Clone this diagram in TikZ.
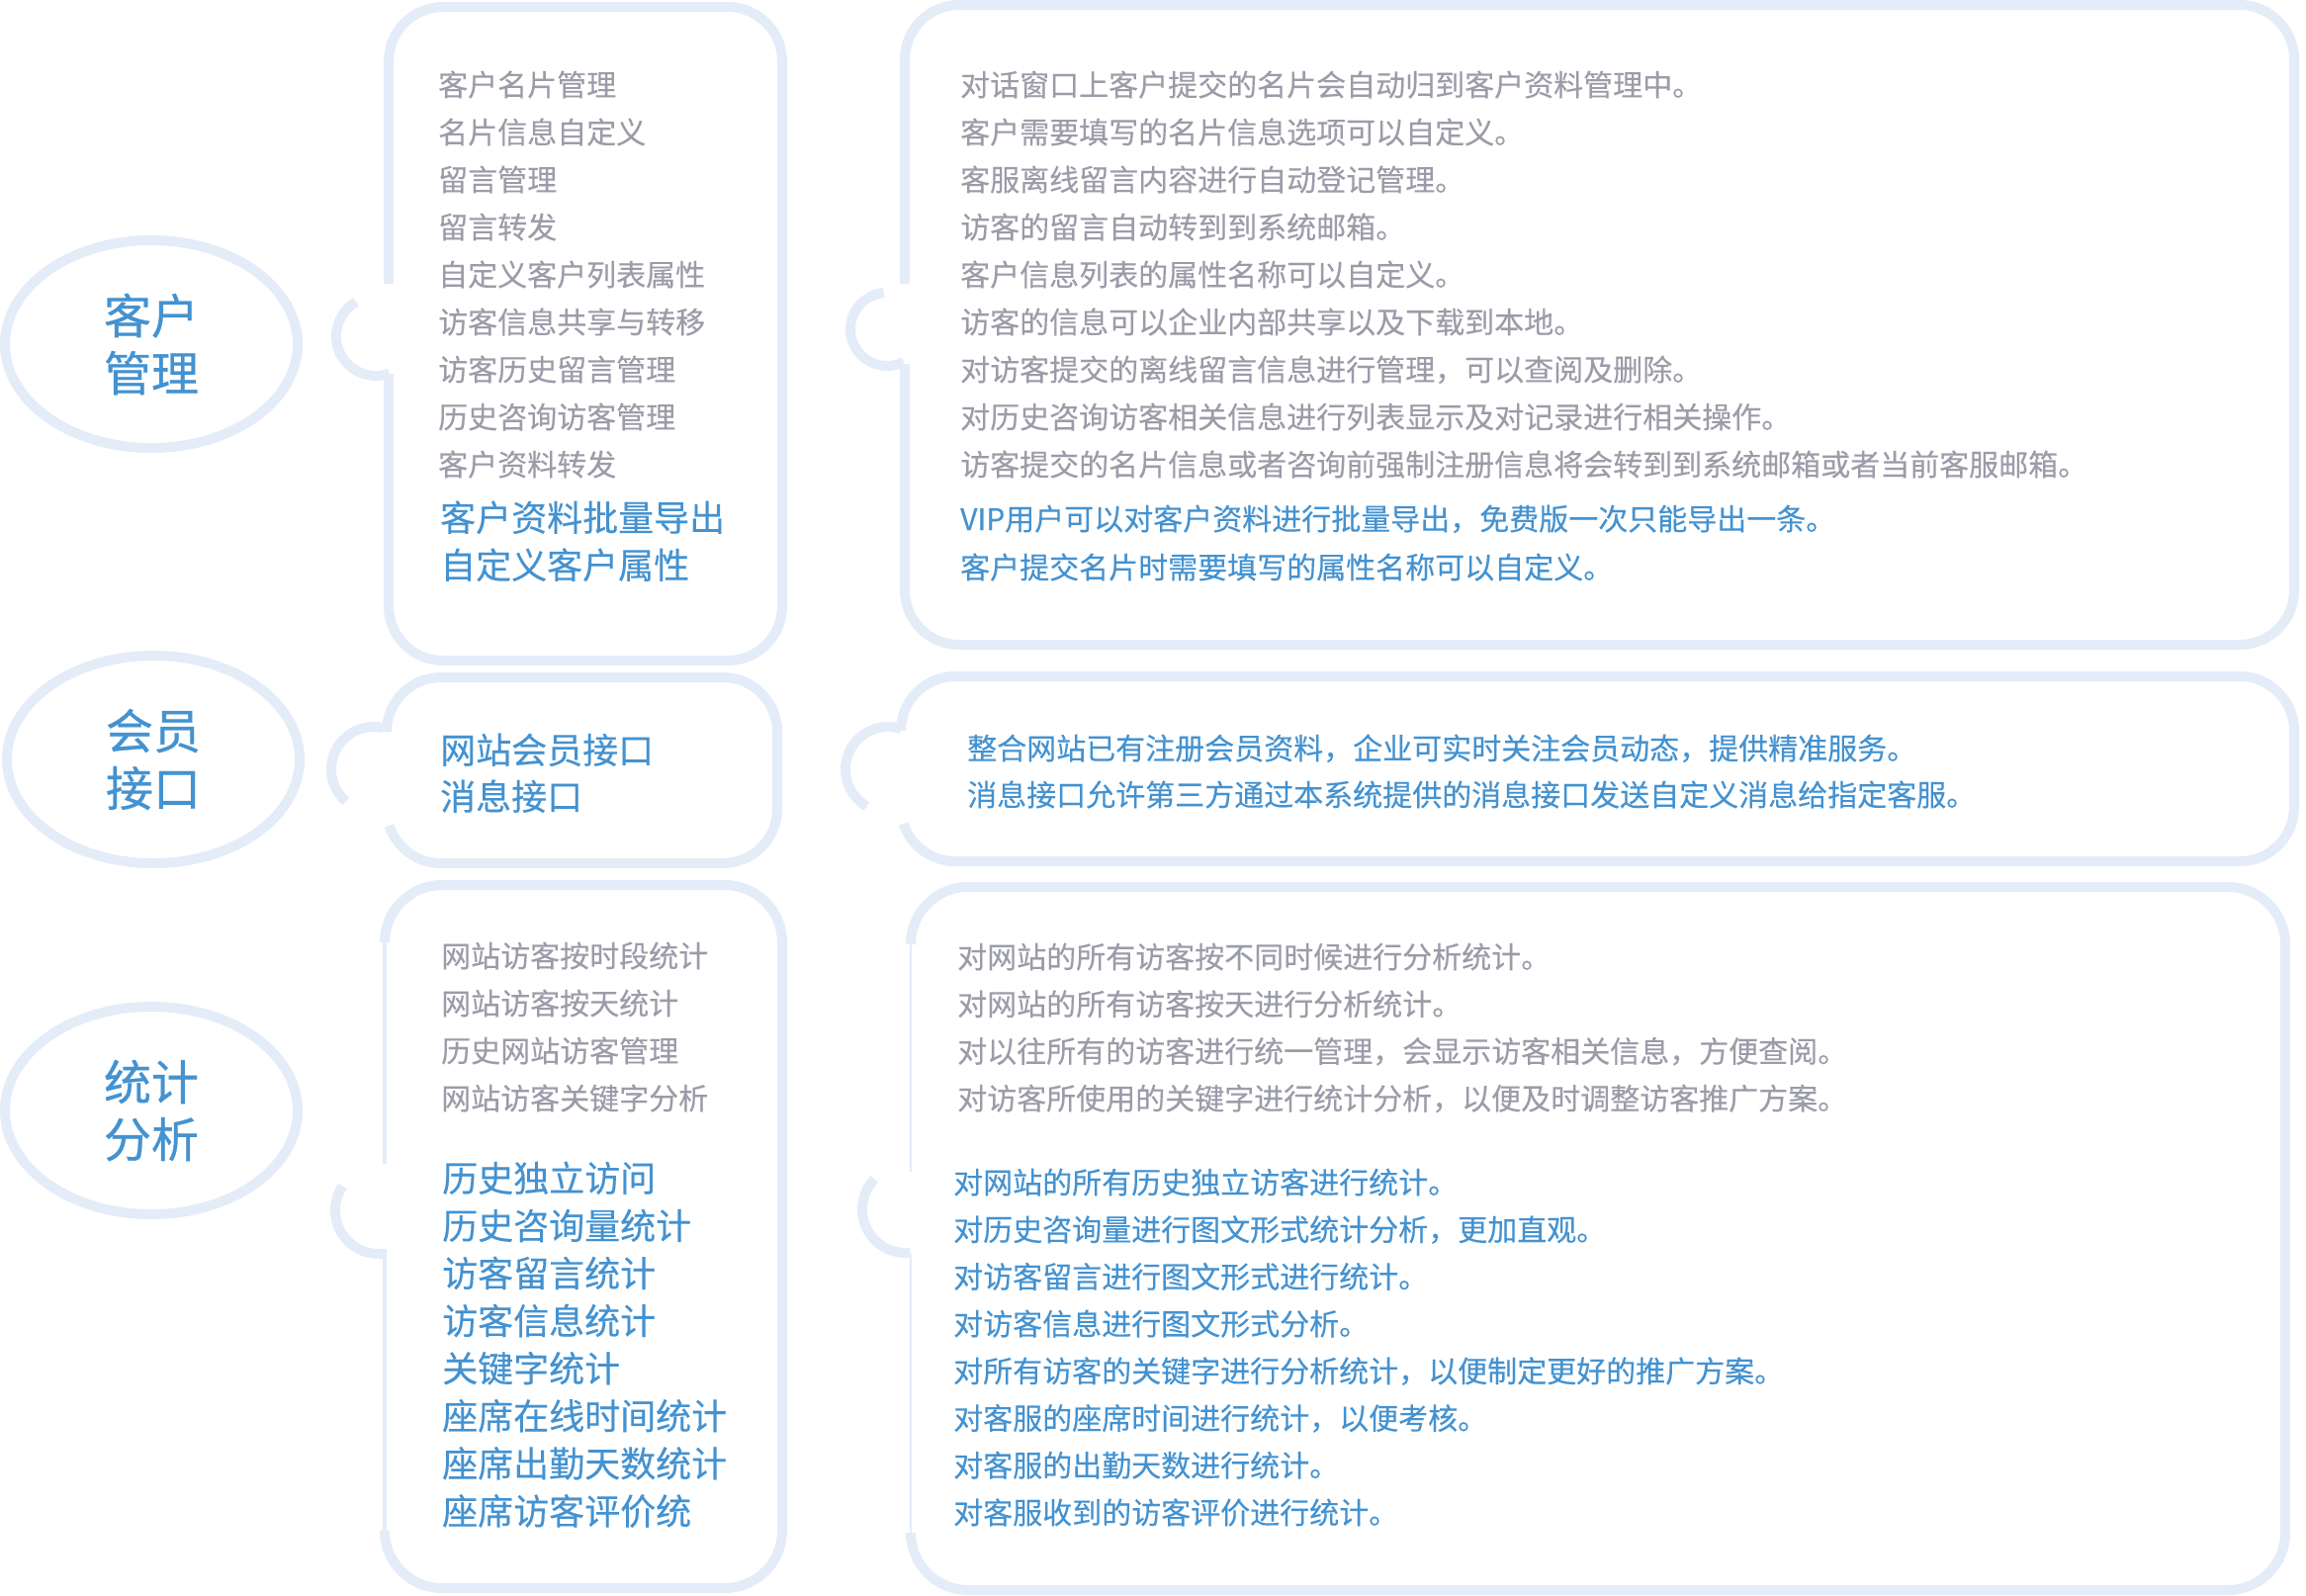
\documentclass[tikz,border=0pt]{standalone}
\usepackage{fontspec}
\setmainfont{Noto Sans CJK SC}
\newfontfamily\cjkheavy{Noto Sans CJK SC}[FakeBold=0.6]
\newfontfamily\cjkmid{Noto Sans CJK SC}[FakeBold=0.3]
\usepackage{xcolor}
\usetikzlibrary{shapes.geometric}

\definecolor{bubbleline}{HTML}{E4ECF8}
\definecolor{txtgray}{HTML}{9B9CA8}
\definecolor{txtblue}{HTML}{4492D0}

\begin{document}
\begin{tikzpicture}[x=1pt,y=-1pt]
\tikzstyle{bubble}=[draw=bubbleline, line width=10pt]
\tikzstyle{grouphead}=[ellipse, bubble, minimum width=296pt, minimum height=210pt, text=txtblue, font=\cjkheavy\fontsize{48}{58}\selectfont, align=center]
\tikzstyle{itemgray}=[anchor=base west, inner sep=0pt, text=txtgray, font=\cjkmid\fontsize{30}{36}\selectfont]
\tikzstyle{itemblue}=[anchor=base west, inner sep=0pt, text=txtblue, font=\cjkmid\fontsize{36}{44}\selectfont]
\tikzstyle{noteblue}=[anchor=base west, inner sep=0pt, text=txtblue, font=\cjkmid\fontsize{30}{36}\selectfont]
\useasboundingbox (0,0) rectangle (2332,1614);

% left titles
\node[grouphead] (khgl) at (153,348) {客户\\管理};
\node[grouphead] (hyjk) at (155,768) {会员\\接口};
\node[grouphead] (tjfx) at (153,1123) {统计\\分析};

% customer management
\draw[bubble, rounded corners=55pt] (393,287) -- (393,7) -- (791,7) -- (791,668) -- (393,668) -- (393,378);
\draw[bubble] (380,340) ++(120:40pt) arc[start angle=120, end angle=290, radius=40pt];
\draw[bubble, rounded corners=55pt] (915,287) -- (915,5) -- (2320,5) -- (2320,652) -- (915,652) -- (915,368);
\draw[bubble] (897,333) ++(95:37pt) arc[start angle=95, end angle=297, radius=37pt];

\foreach \itm [count=\i] in {客户名片管理, 名片信息自定义, 留言管理, 留言转发, 自定义客户列表属性, 访客信息共享与转移, 访客历史留言管理, 历史咨询访客管理, 客户资料转发}
  \node[itemgray] (khitem\i) at (443,{97+48*(\i-1)}) {\itm};
\foreach \itm [count=\i] in {客户资料批量导出, 自定义客户属性}
  \node[itemblue] (khplus\i) at (445,{537+48*(\i-1)}) {\itm};

\foreach \itm [count=\i] in {对话窗口上客户提交的名片会自动归到客户资料管理中。, 客户需要填写的名片信息选项可以自定义。, 客服离线留言内容进行自动登记管理。, 访客的留言自动转到到系统邮箱。, 客户信息列表的属性名称可以自定义。, 访客的信息可以企业内部共享以及下载到本地。, 对访客提交的离线留言信息进行管理，可以查阅及删除。, 对历史咨询访客相关信息进行列表显示及对记录进行相关操作。, 访客提交的名片信息或者咨询前强制注册信息将会转到到系统邮箱或者当前客服邮箱。}
  \node[itemgray] (khnote\i) at (971,{97+48*(\i-1)}) {\itm};
\foreach \itm [count=\i] in {VIP用户可以对客户资料进行批量导出，免费版一次只能导出一条。, 客户提交名片时需要填写的属性名称可以自定义。}
  \node[noteblue] (khplusnote\i) at (971,{536+49*(\i-1)}) {\itm};

% member interface
\draw[bubble] (391,740) arc[start angle=180, end angle=90, radius=55pt] -- (731,685) arc[start angle=90, end angle=0, radius=55pt] -- (786,818) arc[start angle=0, end angle=-90, radius=55pt] -- (446,873) arc[start angle=270, end angle=198, radius=55pt];
\draw[bubble] (378,778) ++(77:43pt) arc[start angle=77, end angle=229, radius=43pt];
\draw[bubble] (911,739) arc[start angle=180, end angle=90, radius=55pt] -- (2265,684) arc[start angle=90, end angle=0, radius=55pt] -- (2320,816) arc[start angle=0, end angle=-90, radius=55pt] -- (966,871) arc[start angle=270, end angle=198, radius=55pt];
\draw[bubble] (898,778) ++(72:43pt) arc[start angle=72, end angle=240, radius=43pt];

\foreach \itm [count=\i] in {网站会员接口, 消息接口}
  \node[itemblue] (hyitem\i) at (445,{772+47*(\i-1)}) {\itm};
\foreach \itm [count=\i] in {整合网站已有注册会员资料，企业可实时关注会员动态，提供精准服务。, 消息接口允许第三方通过本系统提供的消息接口发送自定义消息给指定客服。}
  \node[noteblue] (hynote\i) at (978,{768+47*(\i-1)}) {\itm};

% statistics
\draw[bubble, rounded corners=58pt] (389,953) -- (389,895) -- (791,895) -- (791,1606) -- (389,1606) -- (389,1548);
\draw[draw=bubbleline, line width=4.5pt] (389,953) -- (389,1177) (389,1263) -- (389,1548);
\draw[bubble] (383,1224) ++(146:44pt) arc[start angle=146, end angle=278, radius=44pt];
\draw[bubble, rounded corners=58pt] (921,955) -- (921,897) -- (2311,897) -- (2311,1608) -- (921,1608) -- (921,1550);
\draw[draw=bubbleline, line width=2pt] (921,955) -- (921,1185) (921,1268) -- (921,1550);
\draw[bubble] (916,1223) ++(136:44pt) arc[start angle=136, end angle=276, radius=44pt];

\foreach \itm [count=\i] in {网站访客按时段统计, 网站访客按天统计, 历史网站访客管理, 网站访客关键字分析}
  \node[itemgray] (tjitem\i) at (446,{978+48*(\i-1)}) {\itm};
\foreach \itm [count=\i] in {历史独立访问, 历史咨询量统计, 访客留言统计, 访客信息统计, 关键字统计, 座席在线时间统计, 座席出勤天数统计, 座席访客评价统}
  \node[itemblue] (tjplus\i) at (447,{1205+48.1*(\i-1)}) {\itm};

\foreach \itm [count=\i] in {对网站的所有访客按不同时候进行分析统计。, 对网站的所有访客按天进行分析统计。, 对以往所有的访客进行统一管理，会显示访客相关信息，方便查阅。, 对访客所使用的关键字进行统计分析，以便及时调整访客推广方案。}
  \node[itemgray] (tjnote\i) at (968,{979+47.7*(\i-1)}) {\itm};
\foreach \itm [count=\i] in {对网站的所有历史独立访客进行统计。, 对历史咨询量进行图文形式统计分析，更加直观。, 对访客留言进行图文形式进行统计。, 对访客信息进行图文形式分析。, 对所有访客的关键字进行分析统计，以便制定更好的推广方案。, 对客服的座席时间进行统计，以便考核。, 对客服的出勤天数进行统计。, 对客服收到的访客评价进行统计。}
  \node[noteblue] (tjplusnote\i) at (964,{1207+47.7*(\i-1)}) {\itm};
\end{tikzpicture}
\end{document}
